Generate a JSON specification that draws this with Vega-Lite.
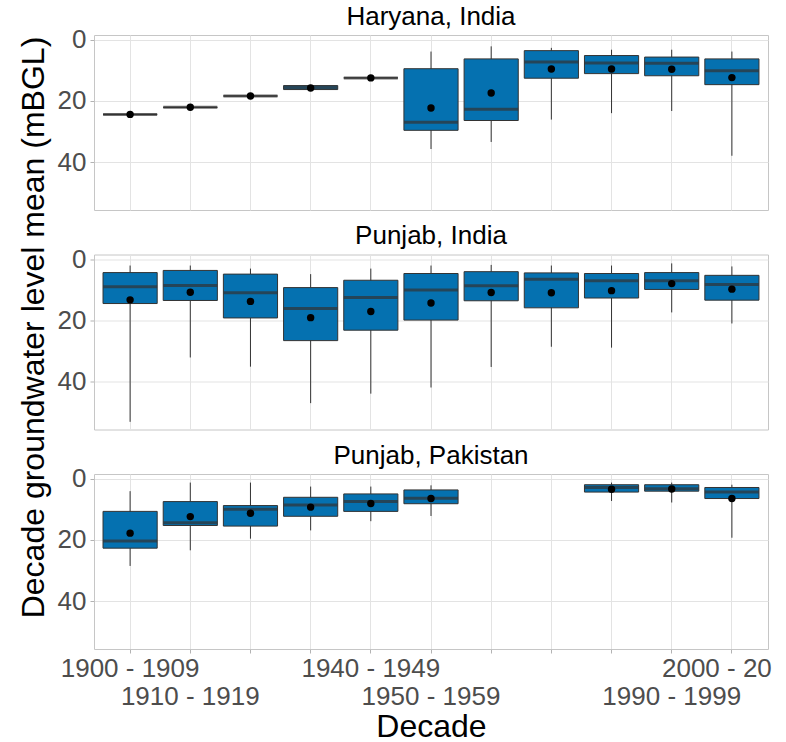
{
  "$schema": "https://vega.github.io/schema/vega-lite/v6.json",
  "padding": {"left": 16, "top": 3, "right": 0, "bottom": 0},
  "background": "white",
  "bounds": "flush",
  "spacing": 44.5,
  "datasets": {
    "box": [
      {"region": "Haryana, India", "decade": "1900 - 1909", "whisker_min": 24.4, "q1": 24.4, "median": 24.4, "q3": 24.4, "whisker_max": 24.4, "mean": 24.4},
      {"region": "Haryana, India", "decade": "1910 - 1919", "whisker_min": 22.1, "q1": 22.1, "median": 22.1, "q3": 22.1, "whisker_max": 22.1, "mean": 22.1},
      {"region": "Haryana, India", "decade": "1920 - 1929", "whisker_min": 18.4, "q1": 18.4, "median": 18.4, "q3": 18.4, "whisker_max": 18.4, "mean": 18.4},
      {"region": "Haryana, India", "decade": "1930 - 1939", "whisker_min": 15.0, "q1": 15.0, "median": 15.6, "q3": 16.3, "whisker_max": 16.3, "mean": 15.8},
      {"region": "Haryana, India", "decade": "1940 - 1949", "whisker_min": 12.5, "q1": 12.5, "median": 12.5, "q3": 12.5, "whisker_max": 12.5, "mean": 12.5},
      {"region": "Haryana, India", "decade": "1950 - 1959", "whisker_min": 3.9, "q1": 9.5, "median": 27.0, "q3": 29.6, "whisker_max": 35.7, "mean": 22.3},
      {"region": "Haryana, India", "decade": "1960 - 1969", "whisker_min": 2.2, "q1": 6.3, "median": 22.7, "q3": 26.4, "whisker_max": 33.4, "mean": 17.4},
      {"region": "Haryana, India", "decade": "1970 - 1979", "whisker_min": 2.7, "q1": 3.6, "median": 7.3, "q3": 12.6, "whisker_max": 26.1, "mean": 9.6},
      {"region": "Haryana, India", "decade": "1980 - 1989", "whisker_min": 3.3, "q1": 5.2, "median": 7.6, "q3": 11.1, "whisker_max": 24.0, "mean": 9.6},
      {"region": "Haryana, India", "decade": "1990 - 1999", "whisker_min": 3.3, "q1": 5.7, "median": 7.7, "q3": 11.8, "whisker_max": 23.3, "mean": 9.7},
      {"region": "Haryana, India", "decade": "2000 - 2009", "whisker_min": 3.9, "q1": 6.3, "median": 10.2, "q3": 14.7, "whisker_max": 37.9, "mean": 12.4},
      {"region": "Punjab, India", "decade": "1900 - 1909", "whisker_min": 2.1, "q1": 4.4, "median": 9.0, "q3": 14.5, "whisker_max": 53.1, "mean": 13.3},
      {"region": "Punjab, India", "decade": "1910 - 1919", "whisker_min": 2.1, "q1": 3.7, "median": 8.6, "q3": 13.5, "whisker_max": 32.1, "mean": 10.8},
      {"region": "Punjab, India", "decade": "1920 - 1929", "whisker_min": 3.1, "q1": 4.9, "median": 11.0, "q3": 19.2, "whisker_max": 35.1, "mean": 13.8},
      {"region": "Punjab, India", "decade": "1930 - 1939", "whisker_min": 4.9, "q1": 9.3, "median": 16.1, "q3": 26.6, "whisker_max": 47.0, "mean": 19.1},
      {"region": "Punjab, India", "decade": "1940 - 1949", "whisker_min": 3.1, "q1": 6.9, "median": 12.5, "q3": 23.2, "whisker_max": 43.9, "mean": 17.1},
      {"region": "Punjab, India", "decade": "1950 - 1959", "whisker_min": 2.1, "q1": 4.7, "median": 10.1, "q3": 19.9, "whisker_max": 41.9, "mean": 14.3},
      {"region": "Punjab, India", "decade": "1960 - 1969", "whisker_min": 1.9, "q1": 4.1, "median": 8.7, "q3": 13.6, "whisker_max": 35.2, "mean": 10.9},
      {"region": "Punjab, India", "decade": "1970 - 1979", "whisker_min": 2.1, "q1": 4.5, "median": 6.6, "q3": 15.9, "whisker_max": 28.6, "mean": 11.0},
      {"region": "Punjab, India", "decade": "1980 - 1989", "whisker_min": 2.1, "q1": 4.7, "median": 7.1, "q3": 12.7, "whisker_max": 28.9, "mean": 10.3},
      {"region": "Punjab, India", "decade": "1990 - 1999", "whisker_min": 1.4, "q1": 4.4, "median": 7.1, "q3": 9.9, "whisker_max": 17.4, "mean": 8.0},
      {"region": "Punjab, India", "decade": "2000 - 2009", "whisker_min": 2.4, "q1": 5.3, "median": 8.3, "q3": 13.4, "whisker_max": 21.0, "mean": 9.8},
      {"region": "Punjab, Pakistan", "decade": "1900 - 1909", "whisker_min": 4.1, "q1": 10.7, "median": 20.4, "q3": 22.7, "whisker_max": 28.5, "mean": 17.8},
      {"region": "Punjab, Pakistan", "decade": "1910 - 1919", "whisker_min": 1.3, "q1": 7.5, "median": 14.4, "q3": 15.3, "whisker_max": 23.4, "mean": 12.4},
      {"region": "Punjab, Pakistan", "decade": "1920 - 1929", "whisker_min": 1.3, "q1": 8.8, "median": 10.0, "q3": 15.5, "whisker_max": 19.6, "mean": 11.3},
      {"region": "Punjab, Pakistan", "decade": "1930 - 1939", "whisker_min": 2.6, "q1": 6.1, "median": 8.6, "q3": 12.3, "whisker_max": 16.9, "mean": 9.3},
      {"region": "Punjab, Pakistan", "decade": "1940 - 1949", "whisker_min": 2.6, "q1": 5.0, "median": 7.5, "q3": 10.7, "whisker_max": 13.9, "mean": 8.1},
      {"region": "Punjab, Pakistan", "decade": "1950 - 1959", "whisker_min": 2.2, "q1": 3.7, "median": 6.4, "q3": 8.2, "whisker_max": 12.2, "mean": 6.5},
      {"region": "Punjab, Pakistan", "decade": "1980 - 1989", "whisker_min": 1.3, "q1": 2.0, "median": 2.9, "q3": 4.4, "whisker_max": 7.3, "mean": 3.5},
      {"region": "Punjab, Pakistan", "decade": "1990 - 1999", "whisker_min": 1.3, "q1": 2.0, "median": 3.3, "q3": 4.1, "whisker_max": 7.8, "mean": 3.4},
      {"region": "Punjab, Pakistan", "decade": "2000 - 2009", "whisker_min": 2.0, "q1": 2.9, "median": 4.4, "q3": 6.5, "whisker_max": 19.3, "mean": 6.5}
    ]
  },
  "vconcat": [
    {
      "width": 674, "height": 175,
      "data": {"name": "box"},
      "transform": [{"filter": "datum.region === 'Haryana, India'"}],
      "title": {"text": "Haryana, India"},
      "encoding": {
        "x": {"field": "decade", "type": "nominal", "sort": null,
          "scale": {"domain": ["1900 - 1909","1910 - 1919","1920 - 1929","1930 - 1939","1940 - 1949","1950 - 1959","1960 - 1969","1970 - 1979","1980 - 1989","1990 - 1999","2000 - 2009"], "paddingInner": 0, "paddingOuter": 0.1},
          "axis": {"labels": false, "ticks": false, "title": null, "domain": false, "grid": true, "bandPosition": 0.5}}
      },
      "layer": [
        {"mark": {"type": "rule", "color": "#333333", "strokeWidth": 1},
         "encoding": {"y": {"field": "whisker_min", "type": "quantitative", "scale": {"domain": [-1.5, 55.6], "reverse": true, "nice": false, "zero": false},
            "axis": {"title": "Decade groundwater level mean (mBGL)", "titleY": 292, "titleX": -51, "titleBaseline": "alphabetic", "titleAngle": -90, "titleAlign": "center", "values": [0,10,20,30,40,50], "labelExpr": "datum.value % 20 === 0 ? datum.label : ''", "tickOpacity": {"condition": {"test": "datum.value % 20 === 0", "value": 1}, "value": 0}, "gridWidth": {"condition": {"test": "datum.value % 20 === 0", "value": 1}, "value": 0.6}}},
           "y2": {"field": "whisker_max"}}},
        {"mark": {"type": "bar", "fill": "#0571b0", "stroke": "#333333", "strokeWidth": 1, "width": {"band": 0.9}},
         "encoding": {"y": {"field": "q1", "type": "quantitative"}, "y2": {"field": "q3"}}},
        {"mark": {"type": "tick", "color": "#333333", "thickness": 3, "size": 54},
         "encoding": {"y": {"field": "median", "type": "quantitative"}}},
        {"mark": {"type": "point", "filled": true, "color": "black", "opacity": 1, "size": 55},
         "encoding": {"y": {"field": "mean", "type": "quantitative"}}}
      ]
    },
    {
      "width": 674, "height": 175,
      "data": {"name": "box"},
      "transform": [{"filter": "datum.region === 'Punjab, India'"}],
      "title": {"text": "Punjab, India"},
      "encoding": {
        "x": {"field": "decade", "type": "nominal", "sort": null,
          "scale": {"domain": ["1900 - 1909","1910 - 1919","1920 - 1929","1930 - 1939","1940 - 1949","1950 - 1959","1960 - 1969","1970 - 1979","1980 - 1989","1990 - 1999","2000 - 2009"], "paddingInner": 0, "paddingOuter": 0.1},
          "axis": {"labels": false, "ticks": false, "title": null, "domain": false, "grid": true, "bandPosition": 0.5}}
      },
      "layer": [
        {"mark": {"type": "rule", "color": "#333333", "strokeWidth": 1},
         "encoding": {"y": {"field": "whisker_min", "type": "quantitative", "scale": {"domain": [-1.5, 55.6], "reverse": true, "nice": false, "zero": false},
            "axis": {"title": null, "values": [0,10,20,30,40,50], "labelExpr": "datum.value % 20 === 0 ? datum.label : ''", "tickOpacity": {"condition": {"test": "datum.value % 20 === 0", "value": 1}, "value": 0}, "gridWidth": {"condition": {"test": "datum.value % 20 === 0", "value": 1}, "value": 0.6}}},
           "y2": {"field": "whisker_max"}}},
        {"mark": {"type": "bar", "fill": "#0571b0", "stroke": "#333333", "strokeWidth": 1, "width": {"band": 0.9}},
         "encoding": {"y": {"field": "q1", "type": "quantitative"}, "y2": {"field": "q3"}}},
        {"mark": {"type": "tick", "color": "#333333", "thickness": 3, "size": 54},
         "encoding": {"y": {"field": "median", "type": "quantitative"}}},
        {"mark": {"type": "point", "filled": true, "color": "black", "opacity": 1, "size": 55},
         "encoding": {"y": {"field": "mean", "type": "quantitative"}}}
      ]
    },
    {
      "width": 674, "height": 175,
      "data": {"name": "box"},
      "transform": [{"filter": "datum.region === 'Punjab, Pakistan'"}],
      "title": {"text": "Punjab, Pakistan"},
      "encoding": {
        "x": {"field": "decade", "type": "nominal", "sort": null,
          "scale": {"domain": ["1900 - 1909","1910 - 1919","1920 - 1929","1930 - 1939","1940 - 1949","1950 - 1959","1960 - 1969","1970 - 1979","1980 - 1989","1990 - 1999","2000 - 2009"], "paddingInner": 0, "paddingOuter": 0.1},
          "axis": {"title": "Decade", "domain": false, "grid": true, "bandPosition": 0.5, "labelAngle": 0, "labelBaseline": "top", "labelOverlap": false, "labelBound": false, "labelLineHeight": 28, "labelPadding": 2,
            "labelExpr": "(datum.value == '1900 - 1909' || datum.value == '1940 - 1949') ? datum.label : (datum.value == '2000 - 2009' ? '2000 - 20' : ((datum.value == '1910 - 1919' || datum.value == '1950 - 1959' || datum.value == '1990 - 1999') ? ['', datum.label] : ''))",
            "labelOffset": {"condition": {"test": "datum.value == '2000 - 2009'", "value": -15}, "value": 0},
            "titlePadding": 2}}
      },
      "layer": [
        {"mark": {"type": "rule", "color": "#333333", "strokeWidth": 1},
         "encoding": {"y": {"field": "whisker_min", "type": "quantitative", "scale": {"domain": [-1.5, 55.6], "reverse": true, "nice": false, "zero": false},
            "axis": {"title": null, "values": [0,10,20,30,40,50], "labelExpr": "datum.value % 20 === 0 ? datum.label : ''", "tickOpacity": {"condition": {"test": "datum.value % 20 === 0", "value": 1}, "value": 0}, "gridWidth": {"condition": {"test": "datum.value % 20 === 0", "value": 1}, "value": 0.6}}},
           "y2": {"field": "whisker_max"}}},
        {"mark": {"type": "bar", "fill": "#0571b0", "stroke": "#333333", "strokeWidth": 1, "width": {"band": 0.9}},
         "encoding": {"y": {"field": "q1", "type": "quantitative"}, "y2": {"field": "q3"}}},
        {"mark": {"type": "tick", "color": "#333333", "thickness": 3, "size": 54},
         "encoding": {"y": {"field": "median", "type": "quantitative"}}},
        {"mark": {"type": "point", "filled": true, "color": "black", "opacity": 1, "size": 55},
         "encoding": {"y": {"field": "mean", "type": "quantitative"}}}
      ]
    }
  ],
  "config": {
    "font": "Liberation Sans",
    "view": {"stroke": "#c6c6c6", "strokeWidth": 1},
    "title": {"fontSize": 26, "fontWeight": "normal", "color": "#000000", "frame": "group", "anchor": "middle", "offset": -3, "baseline": "alphabetic", "font": "Liberation Sans"},
    "axisY": {"labelPadding": 4},
    "axis": {
      "labelFont": "Liberation Sans", "labelFontSize": 26, "labelColor": "#4d4d4d",
      "titleFont": "Liberation Sans", "titleFontSize": 32, "titleFontWeight": "normal", "titleColor": "#000000",
      "tickColor": "#b3b3b3", "tickSize": 4, "tickWidth": 1,
      "gridColor": "#e3e3e3", "domain": false
    }
  }
}
